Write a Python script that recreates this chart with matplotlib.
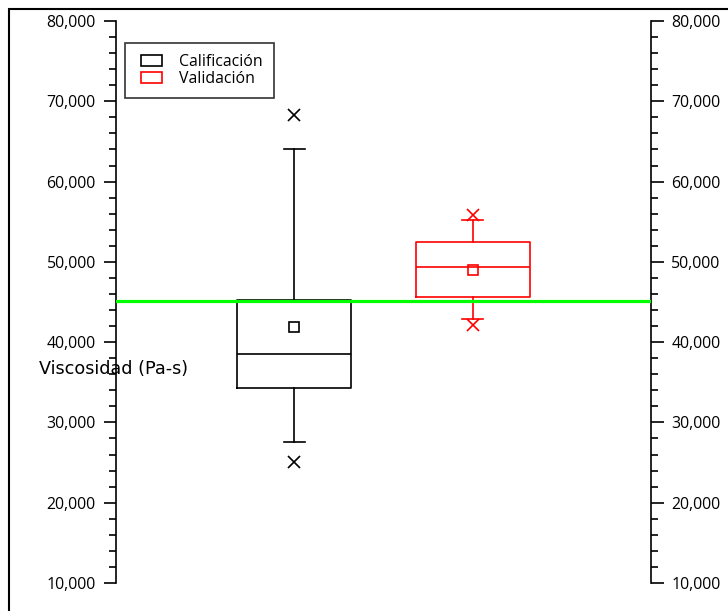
import matplotlib
matplotlib.use("Agg")
import matplotlib.pyplot as plt
from matplotlib.patches import Rectangle
from matplotlib.legend_handler import HandlerPatch
from matplotlib.ticker import MultipleLocator, FuncFormatter

categories = ['Calificación', 'Validación']
colors = ['black', '#ff0000']
q1 = [34300, 45600]
medians = [38500, 49400]
q3 = [45300, 52500]
whislo = [27600, 42850]
whishi = [64050, 55200]
means = [41900, 49000]
fliers = [[68250, 25100], [55850, 42150]]
reference_value = 45100
positions = [1, 2]

plt.rcParams['font.family'] = ['Open Sans', 'DejaVu Sans']
fig = plt.figure(figsize=(7.28, 6.11), dpi=100)
ax = fig.add_axes([116/728, 28/611, 535/728, 562/611])

for i, c in enumerate(colors):
    stats = [dict(q1=q1[i], med=medians[i], q3=q3[i], whislo=whislo[i],
                  whishi=whishi[i], mean=means[i], fliers=fliers[i], label=categories[i])]
    ax.bxp(stats, positions=[positions[i]], widths=0.64, showmeans=True, showfliers=True,
           boxprops=dict(color=c, linewidth=1.2),
           medianprops=dict(color=c, linewidth=1.2),
           whiskerprops=dict(color=c, linewidth=1.2),
           capprops=dict(color=c, linewidth=1.2),
           capwidths=0.12,
           meanprops=dict(marker='s', markerfacecolor='none', markeredgecolor=c,
                          markersize=7, markeredgewidth=1.2),
           flierprops=dict(marker='x', markeredgecolor=c, markersize=8, markeredgewidth=1.2))

ax.axhline(reference_value, color='#00ff00', linewidth=2.3, zorder=5)

ax.set_xlim(0, 3)
ax.set_ylim(10000, 80000)
ax.set_xticks([])
for s in ['top', 'bottom']:
    ax.spines[s].set_visible(False)
for s in ['left', 'right']:
    ax.spines[s].set_linewidth(1.2)
ax.yaxis.set_major_locator(MultipleLocator(10000))
ax.yaxis.set_minor_locator(MultipleLocator(2000))
ax.yaxis.set_major_formatter(FuncFormatter(lambda v, p: f"{int(v):,}"))
ax.tick_params(axis='y', which='both', left=True, right=True, labelleft=True,
               labelright=True, direction='out', labelsize=11.4, width=1.2, pad=5.5)
ax.tick_params(axis='y', which='major', length=9)
ax.tick_params(axis='y', which='minor', length=5)

ax.set_ylabel('Viscosidad (Pa-s)', rotation=0, fontsize=12.7, ha='center', va='center',
              family=['DejaVu Sans'])
ax.yaxis.set_label_coords(-0.005, 0.381)


def shifted_rect(legend, orig_handle, xdescent, ydescent, width, height, fontsize):
    off = 3.6
    return Rectangle((-xdescent + off, -ydescent), width - off, height)


handles = [Rectangle((0, 0), 1, 1, facecolor='none', edgecolor=c, linewidth=1.2) for c in colors]
leg = ax.legend(handles, categories, loc='upper left', bbox_to_anchor=(0.017, 0.961),
                fontsize=11.4, frameon=True, fancybox=False, borderpad=0.7,
                handlelength=1.65, handletextpad=1.05, labelspacing=0.05, borderaxespad=0,
                handler_map={Rectangle: HandlerPatch(patch_func=shifted_rect)})
leg.get_frame().set_edgecolor('black')
leg.get_frame().set_linewidth(1.2)

border = Rectangle((9/728, -0.1), 1.2, (611-9)/611 + 0.1, transform=fig.transFigure,
                   facecolor='none', edgecolor='black', linewidth=1.5, clip_on=False)
fig.patches.append(border)

fig.savefig('out.png', dpi=100)
